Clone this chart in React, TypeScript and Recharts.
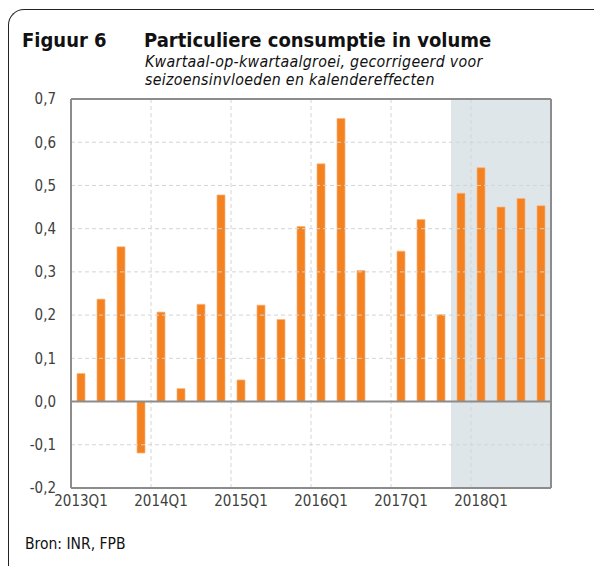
import React from 'react';
import { BarChart, Bar, XAxis, YAxis, ReferenceArea, ReferenceLine } from 'recharts';

const quarters = [
  '2013Q1', '2013Q2', '2013Q3', '2013Q4',
  '2014Q1', '2014Q2', '2014Q3', '2014Q4',
  '2015Q1', '2015Q2', '2015Q3', '2015Q4',
  '2016Q1', '2016Q2', '2016Q3', '2016Q4',
  '2017Q1', '2017Q2', '2017Q3', '2017Q4',
  '2018Q1', '2018Q2', '2018Q3', '2018Q4',
];
const growth: (number | null)[] = [
  0.065, 0.237, 0.358, -0.119,
  0.207, 0.030, 0.225, 0.478,
  0.050, 0.223, 0.190, 0.405,
  0.550, 0.655, 0.303, null,
  0.348, 0.421, 0.201, 0.482,
  0.541, 0.450, 0.470, 0.453,
];
const yTicks = [-0.2, -0.1, 0, 0.1, 0.2, 0.3, 0.4, 0.5, 0.6, 0.7];
const forecastStart = '2017Q4';
const forecastEnd = '2018Q4';

const data = quarters.map((q, i) => ({ q, v: growth[i] }));
const yearStarts = quarters.filter((q, i) => i > 0 && q.endsWith('Q1'));

const FONT = "'DejaVu Sans Condensed', 'DejaVu Sans', sans-serif";
const AXIS = '#8c8c8c';
const GRID = '#d4d4d4';
const TEXT = '#404040';

export default function App() {
  return (
    <div style={{ position: 'fixed', left: 0, top: 0, width: 594, height: 566, overflow: 'hidden', background: '#fff', fontFamily: FONT, fontStretch: 'condensed' }}>
      <div style={{ position: 'absolute', left: 8, top: 9, width: 800, height: 800, borderTop: '1.5px solid #222', borderLeft: '1.5px solid #222', borderTopLeftRadius: 16 }} />
      <div style={{ position: 'absolute', left: 22, top: 28, fontSize: 20, fontWeight: 'bold', color: '#111', whiteSpace: 'nowrap' }}>Figuur 6</div>
      <div style={{ position: 'absolute', left: 144, top: 28, fontSize: 20, fontWeight: 'bold', color: '#111', whiteSpace: 'nowrap' }}>Particuliere consumptie in volume</div>
      <div style={{ position: 'absolute', left: 145, top: 53, fontSize: 15.8, letterSpacing: 0.3, lineHeight: '18px', fontStyle: 'italic', color: '#111', whiteSpace: 'nowrap' }}>
        Kwartaal-op-kwartaalgroei, gecorrigeerd voor<br />seizoensinvloeden en kalendereffecten
      </div>
      <div style={{ position: 'absolute', left: 25, top: 535, fontSize: 15.5, color: '#111', whiteSpace: 'nowrap' }}>Bron: INR, FPB</div>
      <div style={{ position: 'absolute', left: 0, top: 0 }}>
        <BarChart width={594} height={566} data={data} margin={{ top: 99, right: 43, bottom: 48, left: 21 }} barSize={8}>
          <ReferenceArea x1={forecastStart} x2={forecastEnd} fill="#dfe6ea" fillOpacity={1} stroke="none" ifOverflow="visible" />
          {yTicks.filter((t) => t !== 0 && t !== yTicks[yTicks.length - 1] && t !== yTicks[0]).map((t) => (
            <ReferenceLine key={'h' + t} y={t} stroke={GRID} strokeDasharray="4 3" strokeWidth={1} />
          ))}
          {yearStarts.map((q) => (
            <ReferenceLine key={'v' + q} x={q} position="start" stroke={GRID} strokeDasharray="4 3" strokeWidth={1} />
          ))}
          <ReferenceLine y={yTicks[yTicks.length - 1]} stroke={AXIS} strokeWidth={2} />
          <ReferenceLine x={quarters[quarters.length - 1]} position="end" stroke={AXIS} strokeWidth={2} />
          <XAxis
            dataKey="q"
            interval={0}
            tickLine={false}
            axisLine={{ stroke: AXIS, strokeWidth: 2 }}
            tickSize={5}
            tickMargin={2}
            height={30}
            tick={{ fill: TEXT, fontSize: 15, fontFamily: FONT }}
            tickFormatter={(q: string) => (q.endsWith('Q1') ? q : '')}
          />
          <YAxis
            domain={[yTicks[0], yTicks[yTicks.length - 1]]}
            ticks={yTicks}
            interval={0}
            width={50}
            tickLine={false}
            axisLine={{ stroke: AXIS, strokeWidth: 2 }}
            tickSize={12}
            tickMargin={3}
            tick={{ fill: TEXT, fontSize: 15, fontFamily: FONT }}
            tickFormatter={(v: number) => v.toFixed(1).replace('.', ',')}
          />
          <Bar dataKey="v" fill="#f58220" stroke="#fbb57e" strokeWidth={0.7} isAnimationActive={false} />
          <ReferenceLine y={0} stroke={AXIS} strokeWidth={2} />
        </BarChart>
      </div>
    </div>
  );
}
